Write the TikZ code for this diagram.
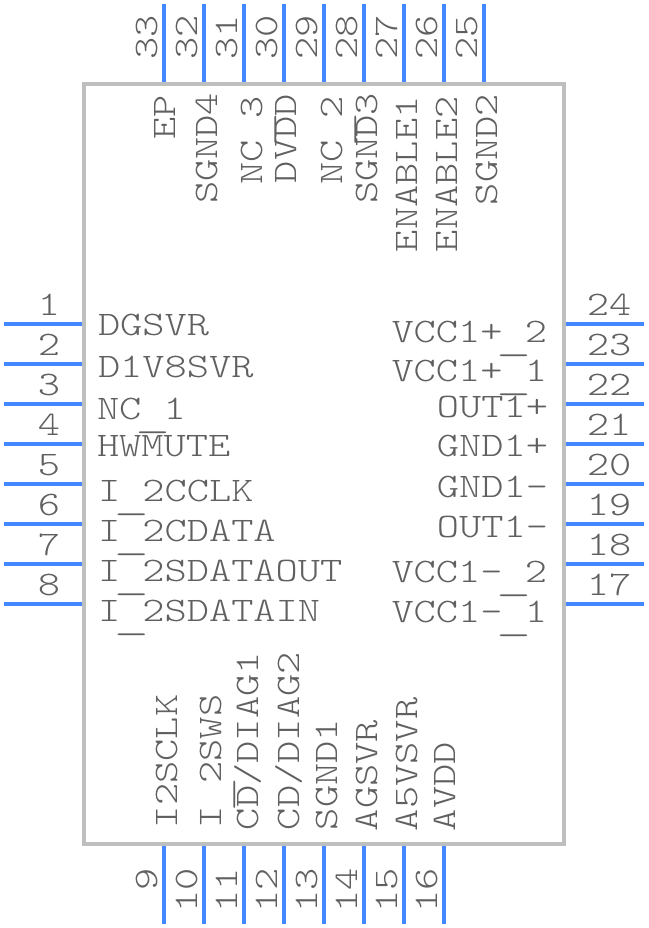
\documentclass[tikz,border=0pt]{standalone}
\usepackage{fontspec}
\usepackage{xcolor}
\newfontfamily\pinfont[FakeStretch=1.23]{Latin Modern Mono Light}
\newcommand{\lowbar}{\raisebox{-8pt}{\makebox[22.2pt]{\scalebox{1.6}[1]{\_}}}}
\definecolor{pinblue}{HTML}{4488FF}
\definecolor{bodygray}{HTML}{BFBFBF}
\definecolor{textgray}{HTML}{606060}
\tikzset{
  chip/.style={
    draw=bodygray,
    line width=3.6pt,
    minimum width=480pt,
    minimum height=760pt,
    inner sep=0pt,
    outer sep=0pt,
  },
  pin/.style={
    draw=pinblue,
    line width=4pt,
    shorten >=2pt,
  },
  pin text/.style={
    inner sep=0pt,
    outer sep=0pt,
    text=textgray,
    font=\pinfont\fontsize{34.4}{34.4}\selectfont,
  },
  west text/.style={pin text, anchor=base west},
  east text/.style={pin text, anchor=base east},
  up text/.style={pin text, anchor=base west, rotate=90},
  left num/.style={pin text, anchor=base, xshift=45pt, yshift=9pt},
  right num/.style={pin text, anchor=base, xshift=-35pt, yshift=9pt},
  top num/.style={pin text, xshift=-7pt, yshift=-56pt, anchor=base west, rotate=90},
  bottom num/.style={pin text, xshift=-7pt, yshift=56pt, anchor=base east, rotate=90},
}

\begin{document}
\begin{tikzpicture}[x=1pt,y=-1pt]
    \useasboundingbox (0,0) rectangle (648,928);
    \node [chip] (ic) at (324,464) {};

    \coordinate (p1) at (4,324);
    \coordinate (p2) at (4,364);
    \coordinate (p3) at (4,404);
    \coordinate (p4) at (4,444);
    \coordinate (p5) at (4,484);
    \coordinate (p6) at (4,524);
    \coordinate (p7) at (4,564);
    \coordinate (p8) at (4,604);
    \coordinate (p9) at (164,924);
    \coordinate (p10) at (204,924);
    \coordinate (p11) at (244,924);
    \coordinate (p12) at (284,924);
    \coordinate (p13) at (324,924);
    \coordinate (p14) at (364,924);
    \coordinate (p15) at (404,924);
    \coordinate (p16) at (444,924);
    \coordinate (p17) at (644,604);
    \coordinate (p18) at (644,564);
    \coordinate (p19) at (644,524);
    \coordinate (p20) at (644,484);
    \coordinate (p21) at (644,444);
    \coordinate (p22) at (644,404);
    \coordinate (p23) at (644,364);
    \coordinate (p24) at (644,324);
    \coordinate (p25) at (484,4);
    \coordinate (p26) at (444,4);
    \coordinate (p27) at (404,4);
    \coordinate (p28) at (364,4);
    \coordinate (p29) at (324,4);
    \coordinate (p30) at (284,4);
    \coordinate (p31) at (244,4);
    \coordinate (p32) at (204,4);
    \coordinate (p33) at (164,4);

    \draw [pin] (p1) -- (p1 -| ic.west);
    \draw [pin] (p2) -- (p2 -| ic.west);
    \draw [pin] (p3) -- (p3 -| ic.west);
    \draw [pin] (p4) -- (p4 -| ic.west);
    \draw [pin] (p5) -- (p5 -| ic.west);
    \draw [pin] (p6) -- (p6 -| ic.west);
    \draw [pin] (p7) -- (p7 -| ic.west);
    \draw [pin] (p8) -- (p8 -| ic.west);
    \draw [pin] (p9) -- (p9 |- ic.south);
    \draw [pin] (p10) -- (p10 |- ic.south);
    \draw [pin] (p11) -- (p11 |- ic.south);
    \draw [pin] (p12) -- (p12 |- ic.south);
    \draw [pin] (p13) -- (p13 |- ic.south);
    \draw [pin] (p14) -- (p14 |- ic.south);
    \draw [pin] (p15) -- (p15 |- ic.south);
    \draw [pin] (p16) -- (p16 |- ic.south);
    \draw [pin] (p17) -- (p17 -| ic.east);
    \draw [pin] (p18) -- (p18 -| ic.east);
    \draw [pin] (p19) -- (p19 -| ic.east);
    \draw [pin] (p20) -- (p20 -| ic.east);
    \draw [pin] (p21) -- (p21 -| ic.east);
    \draw [pin] (p22) -- (p22 -| ic.east);
    \draw [pin] (p23) -- (p23 -| ic.east);
    \draw [pin] (p24) -- (p24 -| ic.east);
    \draw [pin] (p25) -- (p25 |- ic.north);
    \draw [pin] (p26) -- (p26 |- ic.north);
    \draw [pin] (p27) -- (p27 |- ic.north);
    \draw [pin] (p28) -- (p28 |- ic.north);
    \draw [pin] (p29) -- (p29 |- ic.north);
    \draw [pin] (p30) -- (p30 |- ic.north);
    \draw [pin] (p31) -- (p31 |- ic.north);
    \draw [pin] (p32) -- (p32 |- ic.north);
    \draw [pin] (p33) -- (p33 |- ic.north);

    \node [left num] (n1) at (p1) {1};
    \node [left num] (n2) at (p2) {2};
    \node [left num] (n3) at (p3) {3};
    \node [left num] (n4) at (p4) {4};
    \node [left num] (n5) at (p5) {5};
    \node [left num] (n6) at (p6) {6};
    \node [left num] (n7) at (p7) {7};
    \node [left num] (n8) at (p8) {8};
    \node [bottom num] (n9) at (p9) {9};
    \node [bottom num] (n10) at (p10) {10};
    \node [bottom num] (n11) at (p11) {11};
    \node [bottom num] (n12) at (p12) {12};
    \node [bottom num] (n13) at (p13) {13};
    \node [bottom num] (n14) at (p14) {14};
    \node [bottom num] (n15) at (p15) {15};
    \node [bottom num] (n16) at (p16) {16};
    \node [right num] (n17) at (p17) {17};
    \node [right num] (n18) at (p18) {18};
    \node [right num] (n19) at (p19) {19};
    \node [right num] (n20) at (p20) {20};
    \node [right num] (n21) at (p21) {21};
    \node [right num] (n22) at (p22) {22};
    \node [right num] (n23) at (p23) {23};
    \node [right num] (n24) at (p24) {24};
    \node [top num] (n25) at (p25) {25};
    \node [top num] (n26) at (p26) {26};
    \node [top num] (n27) at (p27) {27};
    \node [top num] (n28) at (p28) {28};
    \node [top num] (n29) at (p29) {29};
    \node [top num] (n30) at (p30) {30};
    \node [top num] (n31) at (p31) {31};
    \node [top num] (n32) at (p32) {32};
    \node [top num] (n33) at (p33) {33};

    \node [west text] (dgsvr) at (98,335) {DGSVR};
    \node [west text] (d1v8svr) at (98,377) {D1V8SVR};
    \node [west text] (nc1) at (97,419) {NC\lowbar 1};
    \node [west text] (hwmute) at (97,456) {HWMUTE};
    \node [west text] (i2cclk) at (98,501) {I\lowbar 2CCLK};
    \node [west text] (i2cdata) at (98,541) {I\lowbar 2CDATA};
    \node [west text] (i2sout) at (98,581) {I\lowbar 2SDATAOUT};
    \node [west text] (i2sin) at (98,621) {I\lowbar 2SDATAIN};

    \node [east text] (vccp2) at (547,342) {VCC1+\lowbar 2};
    \node [east text] (vccp1) at (547,381) {VCC1+\lowbar 1};
    \node [east text] (outp) at (548,417) {OUT1+};
    \node [east text] (gndp) at (548,456) {GND1+};
    \node [east text] (gndm) at (548,497) {GND1-};
    \node [east text] (outm) at (548,537) {OUT1-};
    \node [east text] (vccm2) at (547,582) {VCC1-\lowbar 2};
    \node [east text] (vccm1) at (547,622) {VCC1-\lowbar 1};

    \node [up text] (ep) at (175,140) {EP};
    \node [up text] (sgnd4) at (217,204) {SGND4};
    \node [up text] (nc3) at (262,185) {NC\lowbar 3};
    \node [up text] (dvdd) at (296,183) {DVDD};
    \node [up text] (nc2) at (342,185) {NC\lowbar 2};
    \node [up text] (sgnd3) at (377,204) {SGND3};
    \node [up text] (enable1) at (417,252) {ENABLE1};
    \node [up text] (enable2) at (457,252) {ENABLE2};
    \node [up text] (sgnd2) at (497,205) {SGND2};

    \node [up text] (i2sclk) at (177,828) {I2SCLK};
    \node [up text] (i2sws) at (221,828) {I\lowbar 2SWS};
    \node [up text] (diag1) at (258,830) {CD/DIAG1};
    \node [up text] (diag2) at (299,830) {CD/DIAG2};
    \node [up text] (sgnd1) at (337,830) {SGND1};
    \node [up text] (agsvr) at (377,831) {AGSVR};
    \node [up text] (a5vsvr) at (417,831) {A5VSVR};
    \node [up text] (avdd) at (455,831) {AVDD};
\end{tikzpicture}
\end{document}
